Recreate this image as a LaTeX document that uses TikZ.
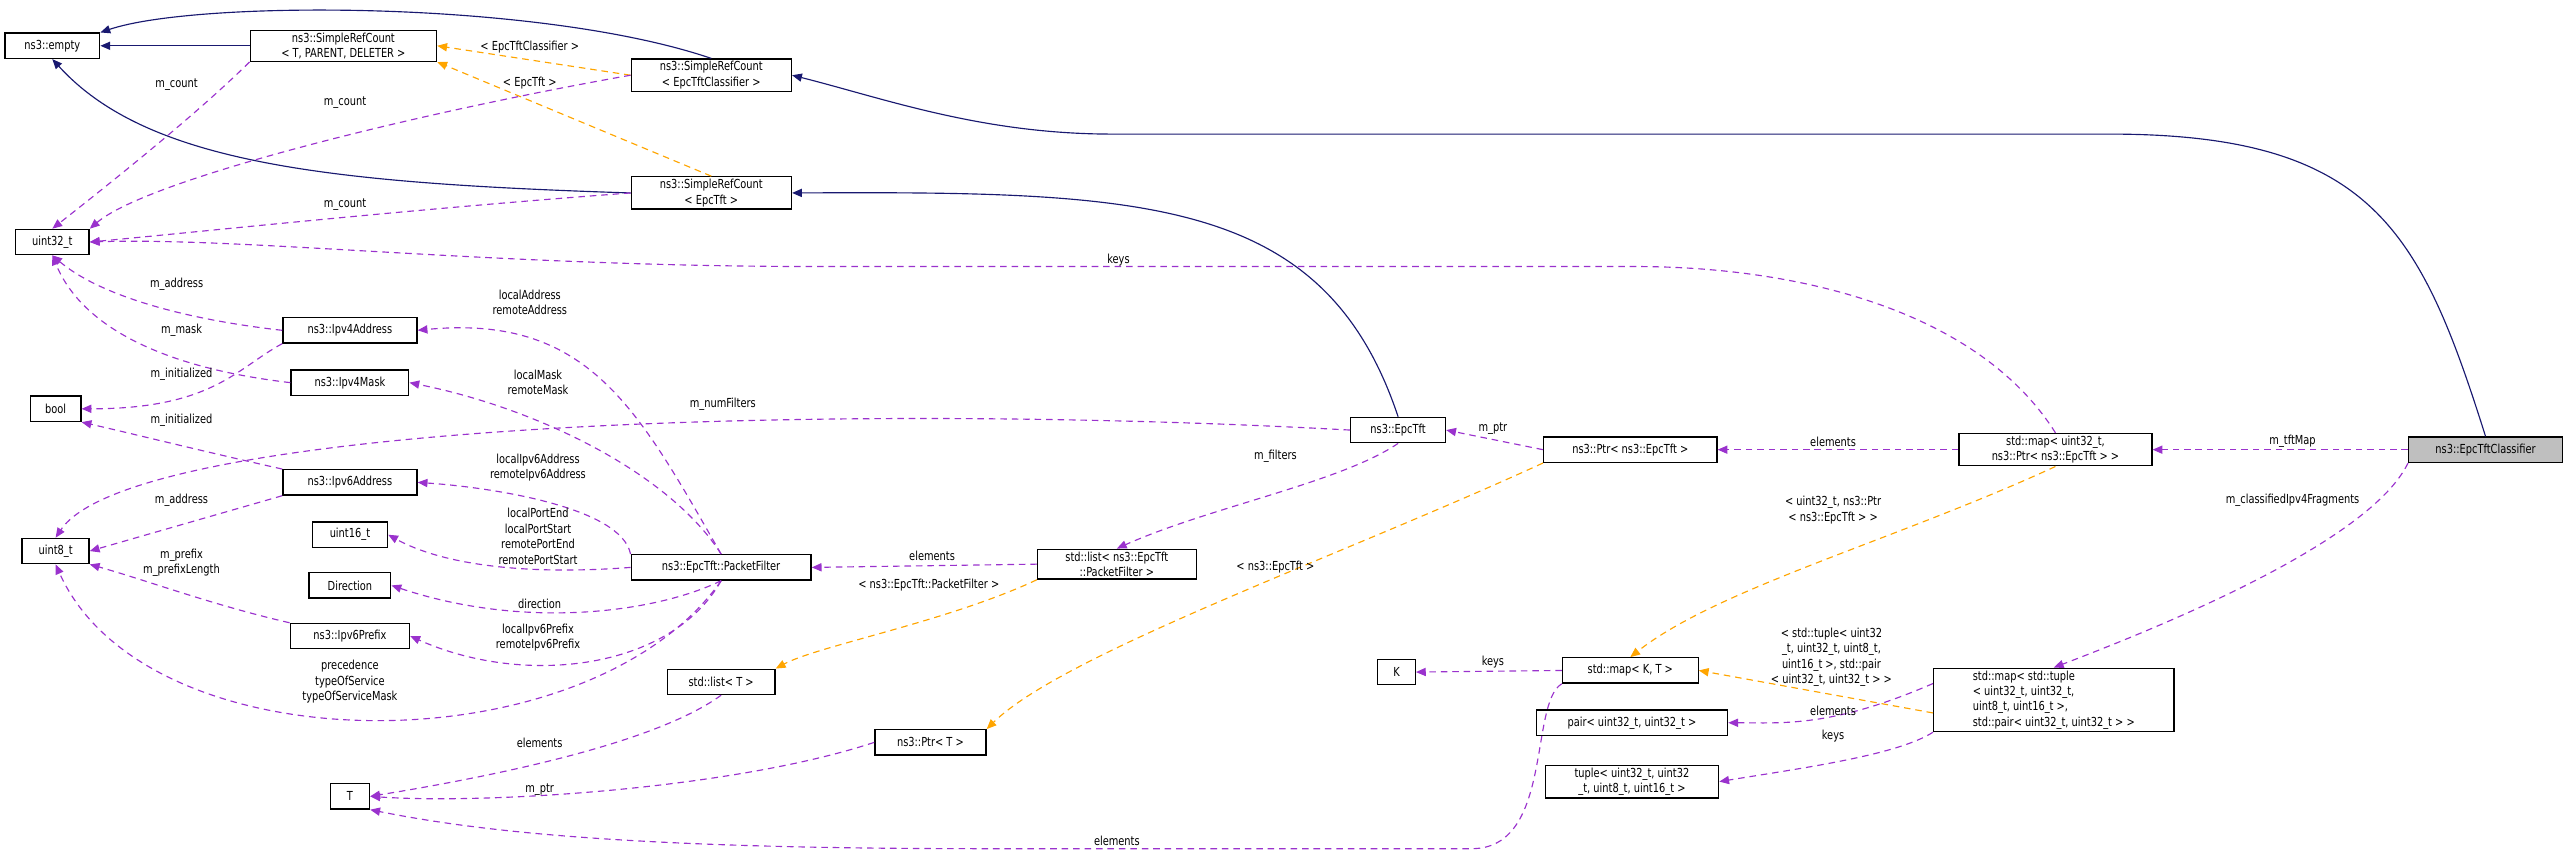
\documentclass[tikz,border=0pt]{standalone}
\usepackage{fontspec}
\setmainfont{DejaVu Sans Condensed}[FakeStretch=0.88]
\usetikzlibrary{arrows.meta}
\definecolor{inhc}{HTML}{191970}
\definecolor{memc}{HTML}{9A32CD}
\definecolor{tplc}{HTML}{FFA500}
\begin{document}
\begin{tikzpicture}[x=1pt,y=-1pt,
  every node/.style={font=\fontsize{7.6}{9.4}\selectfont},
  cls/.style={draw=black,line width=0.8pt,fill=white,inner sep=1.5pt,minimum height=15.5pt,align=center},
  lbl/.style={inner sep=0pt,align=center},
  inh/.style={draw=inhc,line width=0.7pt,-{Triangle[length=6pt,width=5pt]}},
  mem/.style={draw=memc,line width=0.7pt,dash pattern=on 4pt off 3pt,-{Triangle[length=6pt,width=5pt]}},
  tpl/.style={draw=tplc,line width=0.7pt,dash pattern=on 4pt off 3pt,-{Triangle[length=6pt,width=5pt]}}]
\useasboundingbox (0,0) rectangle (1568,521.6);
% nodes
\node[cls,minimum width=58pt] (empty) at (32,28) {ns3::empty};
\node[cls,minimum width=114pt] (srct) at (210,28) {ns3::SimpleRefCount\\< T, PARENT, DELETER >};
\node[cls,minimum width=98pt] (srccl) at (435,46) {ns3::SimpleRefCount\\< EpcTftClassifier >};
\node[cls,minimum width=98pt] (srcet) at (435,118) {ns3::SimpleRefCount\\< EpcTft >};
\node[cls,minimum width=45pt] (u32) at (32,148) {uint32\_t};
\node[cls,minimum width=82pt] (ip4a) at (214,202) {ns3::Ipv4Address};
\node[cls,minimum width=72pt] (ip4m) at (214,234) {ns3::Ipv4Mask};
\node[cls,minimum width=31pt] (bool) at (34,250) {bool};
\node[cls,minimum width=82pt] (ip6a) at (214,295) {ns3::Ipv6Address};
\node[cls,minimum width=46pt] (u16) at (214,327) {uint16\_t};
\node[cls,minimum width=50pt] (dir) at (214,358) {Direction};
\node[cls,minimum width=73pt] (ip6p) at (214,389) {ns3::Ipv6Prefix};
\node[cls,minimum width=41pt] (u8) at (34,337) {uint8\_t};
\node[cls,minimum width=110pt] (pf) at (441,347) {ns3::EpcTft::PacketFilter};
\node[cls,minimum width=97pt] (lpf) at (683,345) {std::list< ns3::EpcTft\\::PacketFilter >};
\node[cls,minimum width=66pt] (lt) at (441,417) {std::list< T >};
\node[cls,minimum width=68pt] (ptrt) at (569,454) {ns3::Ptr< T >};
\node[cls,minimum width=24pt] (T) at (214,487) {T};
\node[cls,minimum width=58pt] (tft) at (855,263) {ns3::EpcTft};
\node[cls,minimum width=106pt] (ptrtft) at (997,275) {ns3::Ptr< ns3::EpcTft >};
\node[cls,minimum width=118pt] (map1) at (1257,275) {std::map< uint32\_t,\\ ns3::Ptr< ns3::EpcTft > >};
\node[cls,minimum width=94pt,fill=black!25] (cl) at (1520,275) {ns3::EpcTftClassifier};
\node[cls,minimum width=23pt] (K) at (854,411) {K};
\node[cls,minimum width=83pt] (mkt) at (997,410) {std::map< K, T >};
\node[cls,minimum width=117pt] (pair) at (998,442) {pair< uint32\_t, uint32\_t >};
\node[cls,minimum width=106pt] (tup) at (998,478) {tuple< uint32\_t, uint32\\\_t, uint8\_t, uint16\_t >};
\node[cls,minimum width=147pt,align=left] (map2) at (1256,428) {std::map< std::tuple\\< uint32\_t, uint32\_t,\\ uint8\_t, uint16\_t >,\\ std::pair< uint32\_t, uint32\_t > >};
% inheritance
\draw[inh] (srct.west) -- (empty.east);
\draw[inh] (srccl.north) .. controls (330,0) and (120,0) .. (empty.north east);
\draw[inh] (srcet.west) .. controls (200,112) and (90,100) .. (empty.south);
\draw[inh] (tft.north) .. controls (810,120) and (700,117) .. (srcet.east);
\draw[inh] (cl.north) .. controls (1480,140) and (1450,82) .. (1290,82) -- (680,82) .. controls (600,82) and (540,60) .. (srccl.east);
% templates
\draw[tpl] (srccl.west) -- (srct.east);
\draw[tpl] (srcet.north) -- (srct.south east);
\draw[tpl] (lpf.south west) .. controls (580,380) and (500,395) .. (lt.north east);
\draw[tpl] (ptrtft.south west) .. controls (820,340) and (650,400) .. (ptrt.north east);
\draw[tpl] (map1.south) .. controls (1160,330) and (1050,360) .. (mkt.north);
\draw[tpl] ([yshift=-8pt]map2.west) -- (mkt.east);
% members
\draw[mem] (srct.south west) .. controls (120,70) and (70,110) .. (u32.north);
\draw[mem] (srccl.west) .. controls (250,70) and (90,110) .. (u32.north east);
\draw[mem] (srcet.west) .. controls (250,128) and (120,142) .. (u32.east);
\draw[mem] (map1.north) .. controls (1210,190) and (1100,163) .. (1000,163) -- (500,163) .. controls (300,163) and (150,145) .. (u32.east);
\draw[mem] (ip4a.west) .. controls (110,195) and (60,180) .. (u32.south);
\draw[mem] (ip4m.west) .. controls (100,225) and (50,200) .. (u32.south);
\draw[mem] (ip4a.south west) .. controls (145,225) and (130,250) .. (bool.east);
\draw[mem] (ip6a.north west) .. controls (120,275) and (80,265) .. (bool.south east);
\draw[mem] (ip6a.south west) -- (u8.east);
\draw[mem] (tft.west) .. controls (500,245) and (80,260) .. (u8.north);
\draw[mem] (ip6p.north west) .. controls (130,370) and (90,355) .. (u8.south east);
\draw[mem] (pf.south) .. controls (360,470) and (90,470) .. (u8.south);
\draw[mem] (pf.north) .. controls (390,250) and (360,192) .. (ip4a.east);
\draw[mem] (pf.north) .. controls (410,290) and (330,250) .. (ip4m.east);
\draw[mem] (pf.north west) .. controls (380,310) and (300,298) .. (ip6a.east);
\draw[mem] (pf.west) .. controls (320,352) and (270,345) .. (u16.east);
\draw[mem] (pf.south) .. controls (400,375) and (320,385) .. (dir.east);
\draw[mem] (pf.south) .. controls (410,410) and (320,420) .. (ip6p.east);
\draw[mem] (lpf.west) -- (pf.east);
\draw[mem] (tft.south) .. controls (820,295) and (740,310) .. (lpf.north);
\draw[mem] (ptrtft.west) -- (tft.east);
\draw[mem] (map1.west) -- (ptrtft.east);
\draw[mem] (cl.west) -- (map1.east);
\draw[mem] (cl.south west) .. controls (1450,330) and (1330,380) .. (map2.north);
\draw[mem] (mkt.west) -- (K.east);
\draw[mem] ([yshift=10pt]map2.west) .. controls (1120,445) and (1090,442) .. (pair.east);
\draw[mem] (map2.south west) .. controls (1160,462) and (1100,470) .. (tup.east);
\draw[mem] (lt.south) .. controls (400,455) and (300,475) .. (T.east);
\draw[mem] (ptrt.west) .. controls (450,482) and (300,492) .. (T.east);
\draw[mem] (mkt.south west) .. controls (935,430) and (950,519) .. (900,519) -- (600,519) .. controls (400,519) and (300,510) .. (T.south east);
% labels
\node[lbl] at (324,29) {< EpcTftClassifier >};
\node[lbl] at (324,51) {< EpcTft >};
\node[lbl] at (108,52) {m\_count};
\node[lbl] at (211,63) {m\_count};
\node[lbl] at (211,125) {m\_count};
\node[lbl] at (684,159) {keys};
\node[lbl] at (108,174) {m\_address};
\node[lbl] at (111,202) {m\_mask};
\node[lbl] at (111,229) {m\_initialized};
\node[lbl] at (111,257) {m\_initialized};
\node[lbl] at (111,306) {m\_address};
\node[lbl] at (442,247) {m\_numFilters};
\node[lbl] at (111,344) {m\_prefix\\m\_prefixLength};
\node[lbl] at (214,417) {precedence\\typeOfService\\typeOfServiceMask};
\node[lbl] at (324,185) {localAddress\\remoteAddress};
\node[lbl] at (329,234) {localMask\\remoteMask};
\node[lbl] at (329,286) {localIpv6Address\\remoteIpv6Address};
\node[lbl] at (329,328) {localPortEnd\\localPortStart\\remotePortEnd\\remotePortStart};
\node[lbl] at (330,369) {direction};
\node[lbl] at (329,390) {localIpv6Prefix\\remoteIpv6Prefix};
\node[lbl] at (570,340) {elements};
\node[lbl] at (568,358) {< ns3::EpcTft::PacketFilter >};
\node[lbl] at (780,279) {m\_filters};
\node[lbl] at (913,262) {m\_ptr};
\node[lbl] at (780,347) {< ns3::EpcTft >};
\node[lbl] at (1121,270) {elements};
\node[lbl] at (1402,270) {m\_tftMap};
\node[lbl] at (1121,312) {< uint32\_t, ns3::Ptr\\< ns3::EpcTft > >};
\node[lbl] at (1402,306) {m\_classifiedIpv4Fragments};
\node[lbl] at (1120,402) {< std::tuple< uint32\\\_t, uint32\_t, uint8\_t,\\uint16\_t >, std::pair\\< uint32\_t, uint32\_t > >};
\node[lbl] at (913,405) {keys};
\node[lbl] at (1121,435) {elements};
\node[lbl] at (1121,450) {keys};
\node[lbl] at (330,454) {elements};
\node[lbl] at (330,483) {m\_ptr};
\node[lbl] at (683,514) {elements};
\end{tikzpicture}
\end{document}
